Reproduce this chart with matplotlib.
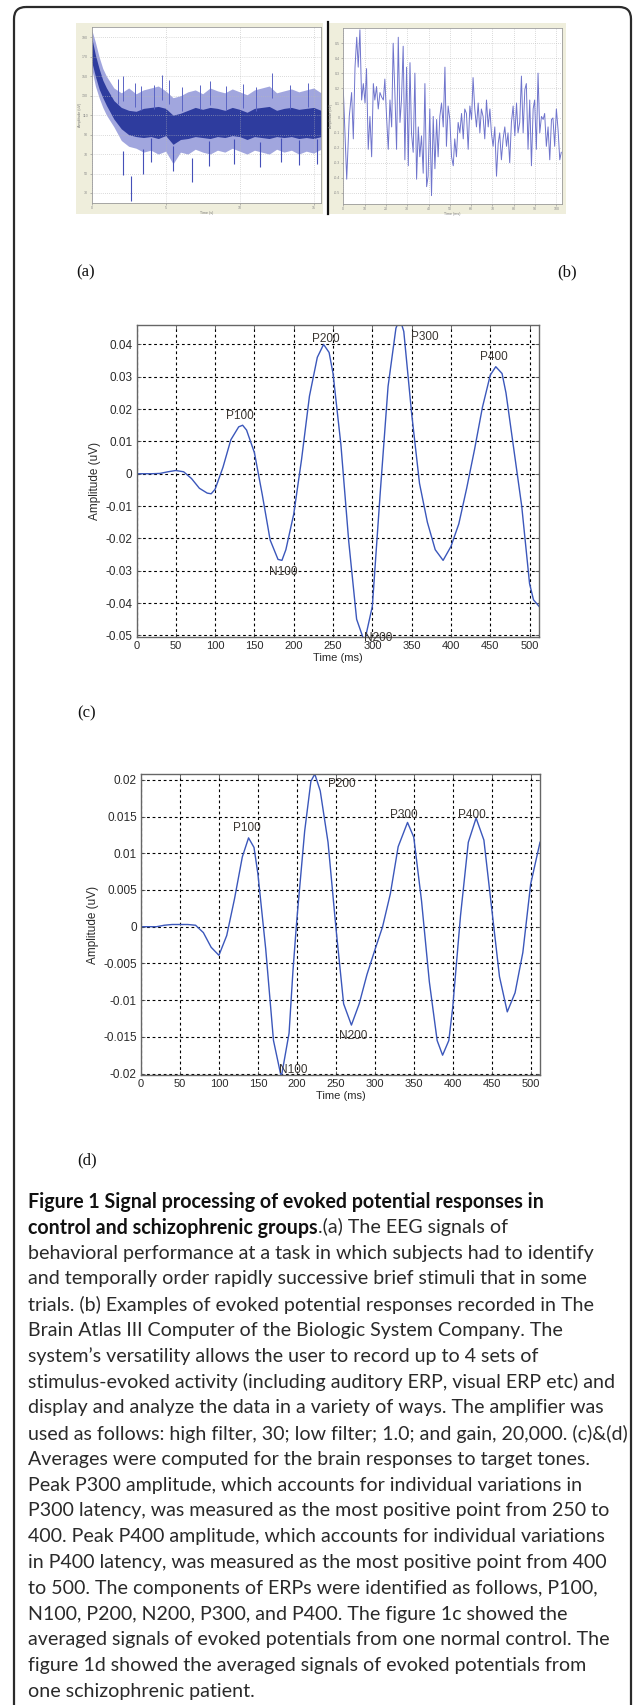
import matplotlib
matplotlib.use('Agg')
import matplotlib.pyplot as plt
from matplotlib.patches import FancyBboxPatch, Rectangle

W, H = 633, 1705
DPI = 100

# ---------------- data ----------------
# (a) raw EEG trace, time (s) vs amplitude; envelopes
a_t = [0, 0.25, 0.5, 0.75, 1.0, 1.5, 2.0, 2.5, 3.0, 3.5, 4.0, 4.5, 5.0, 5.5, 6.0, 6.5, 7.0,
       7.5, 8.0, 8.5, 9.0, 9.5, 10.0, 10.5, 11.0, 11.5, 12.0, 12.5, 13.0, 13.5, 14.0, 14.5, 15.0, 15.5]
a_env_hi = [198, 185, 170, 158, 150, 138, 133, 138, 132, 136, 138, 140, 135, 128, 130, 134, 136,
            132, 138, 135, 133, 137, 134, 131, 136, 138, 140, 133, 135, 137, 134, 136, 138, 133]
a_env_lo = [158, 140, 128, 118, 110, 98, 84, 78, 76, 72, 74, 70, 73, 60, 72, 70, 75,
            72, 70, 74, 72, 76, 73, 70, 74, 72, 70, 75, 72, 74, 70, 73, 71, 75]
a_core_hi = [190, 172, 158, 146, 138, 125, 118, 115, 114, 117, 118, 119, 117, 110, 112, 115, 118,
             116, 118, 117, 115, 118, 116, 113, 117, 118, 119, 115, 117, 118, 116, 117, 118, 115]
a_core_lo = [165, 150, 137, 128, 120, 106, 96, 90, 88, 87, 88, 86, 89, 80, 85, 86, 88,
             87, 86, 88, 87, 89, 88, 85, 88, 87, 86, 88, 87, 88, 86, 87, 86, 88]
a_spike_up_t = [1.8, 2.14, 2.9, 3.3, 4.2, 4.73, 5.2, 6.1, 7.3, 8.0, 9.1, 10.2, 11.1, 12.2, 13.4, 14.6]
a_spike_up_v = [147, 150, 143, 140, 141, 151, 146, 139, 141, 145, 140, 142, 139, 153, 141, 143]
a_spike_dn_t = [2.14, 2.63, 3.45, 4.0, 5.5, 6.76, 7.9, 9.6, 11.4, 12.8, 14.0, 15.2]
a_spike_dn_v = [48, 22, 50, 62, 53, 41, 58, 60, 57, 62, 59, 60]
a_xticks = [0, 5, 10, 15]
a_yticks = [30, 50, 70, 90, 110, 130, 150, 170, 190]

# (b) evoked potential raw response
b_t = [0.0, 1.6, 2.8, 3.9, 4.7, 5.5, 6.3, 7.0, 7.8, 8.6, 9.4, 10.2, 10.9, 11.7, 12.5, 13.3, 14.1,
       14.8, 15.6, 16.4, 17.2, 18.0, 18.8, 19.5, 20.3, 21.1, 21.9, 22.7, 23.4, 24.2, 25.0, 25.8,
       26.6, 27.3, 28.1, 28.9, 29.7, 30.5, 31.3, 32.0, 32.8, 33.6, 34.4, 35.2, 35.9, 36.7, 37.5,
       38.3, 39.1, 39.8, 40.6, 41.4, 42.2, 43.0, 43.8, 44.5, 45.3, 46.1, 46.9, 47.7, 48.4, 49.2,
       50.0, 50.8, 51.6, 52.3, 53.1, 53.9, 54.7, 55.5, 56.3, 57.0, 57.8, 58.6, 59.4, 60.2, 60.9,
       61.7, 62.5, 63.3, 64.1, 64.8, 65.6, 66.4, 67.2, 68.0, 68.8, 69.5, 70.3, 71.1, 71.9, 72.7,
       73.4, 74.2, 75.0, 75.8, 76.6, 77.3, 78.1, 78.9, 79.7, 80.5, 81.3, 82.0, 82.8, 83.6, 84.4,
       85.2, 85.9, 86.7, 87.5, 88.3, 89.1, 89.8, 90.6, 91.4, 92.2, 93.0, 93.8, 94.5, 95.3, 96.1,
       96.9, 97.7, 98.4, 99.2, 100.0, 100.8, 101.6, 102.3]
b_v = [0.19, -0.41, 0.01, 0.17, -0.14, 0.34, 0.54, 0.34, 0.59, 0.12, 0.23, 0.10, 0.33, -0.21, 0.01,
       -0.26, 0.23, 0.12, 0.21, 0.06, 0.17, 0.14, 0.12, 0.26, 0.01, -0.21, 0.12, -0.06, 0.50, 0.17,
       -0.21, 0.54, -0.03, 0.12, 0.48, -0.28, 0.34, -0.32, 0.37, -0.10, -0.23, 0.30, -0.41, -0.06,
       -0.26, -0.12, -0.37, 0.23, -0.46, -0.39, 0.06, -0.52, 0.01, -0.34, -0.01, -0.26, 0.01, 0.10,
       -0.06, 0.34, -0.19, 0.08, -0.01, -0.26, -0.32, -0.14, -0.26, -0.03, -0.10, 0.03, -0.14, 0.06,
       0.03, -0.21, 0.08, -0.01, 0.27, 0.06, -0.06, 0.10, -0.10, 0.06, 0.01, -0.14, 0.12, -0.06,
       0.06, -0.10, -0.19, -0.06, -0.39, -0.17, -0.10, -0.28, -0.14, -0.06, -0.19, -0.10, -0.30,
       -0.03, 0.08, -0.12, 0.10, -0.10, -0.03, 0.28, -0.10, 0.19, 0.23, -0.21, 0.12, -0.32, 0.06,
       0.12, -0.21, 0.30, -0.10, 0.01, -0.01, 0.03, -0.19, -0.06, -0.28, -0.01, 0.00, -0.19, 0.06,
       -0.08, -0.28, -0.23]
b_xticks = [0, 10, 20, 30, 40, 50, 60, 70, 80, 90, 100]
b_yticks = [-0.5, -0.4, -0.3, -0.2, -0.1, 0, 0.1, 0.2, 0.3, 0.4, 0.5]

# (c) averaged ERP, normal control
c_t = [0, 10, 20, 30, 40, 50, 60, 70, 80, 90, 95, 100, 110, 120, 130, 135, 140, 150, 160, 170,
       180, 185, 190, 200, 210, 220, 230, 238, 245, 250, 260, 270, 280, 290, 300, 310, 320, 330,
       335, 340, 350, 360, 370, 380, 390, 400, 410, 420, 430, 440, 450, 457, 465, 470, 480, 490,
       500, 505, 512]
c_v = [0, 0, 0, 0.0001, 0.0006, 0.001, 0.0006, -0.0015, -0.0045, -0.006, -0.0062, -0.0048, 0.002,
       0.0105, 0.0145, 0.0150, 0.0135, 0.0065, -0.0065, -0.0205, -0.0265, -0.0268, -0.0235,
       -0.0125, 0.0045, 0.024, 0.036, 0.040, 0.0375, 0.031, 0.009, -0.021, -0.045, -0.052,
       -0.041, -0.006, 0.027, 0.045, 0.048, 0.044, 0.0186, -0.003, -0.015, -0.0235, -0.0268,
       -0.0225, -0.0155, -0.0045, 0.0075, 0.0205, 0.0305, 0.0331, 0.031, 0.025, 0.0075, -0.010,
       -0.034, -0.039, -0.041]
c_yticks = [-0.05, -0.04, -0.03, -0.02, -0.01, 0, 0.01, 0.02, 0.03, 0.04]
c_ylabels = ['-0.05', '-0.04', '-0.03', '-0.02', '-0.01', '0', '0.01', '0.02', '0.03', '0.04']
c_peaks = ['P100', 'N100', 'P200', 'N200', 'P300', 'P400']
c_peak_t = [131, 187, 241, 307, 367, 455]
c_peak_v = [0.0177, -0.0305, 0.0418, -0.0508, 0.0422, 0.036]

# (d) averaged ERP, schizophrenic patient
d_t = [0, 10, 20, 30, 40, 50, 60, 70, 80, 90, 100, 110, 120, 130, 138, 145, 150, 160, 170, 180,
       190, 195, 200, 210, 218, 223, 230, 240, 250, 260, 270, 280, 290, 300, 310, 320, 330, 342,
       350, 360, 370, 380, 387, 395, 400, 410, 420, 430, 440, 450, 460, 470, 480, 490, 500, 512]
d_v = [0, 0, 0, 0.0002, 0.0003, 0.0003, 0.0003, 0.0002, -0.0008, -0.0028, -0.0039, -0.0012,
       0.0038, 0.0095, 0.0121, 0.0108, 0.0072, -0.003, -0.0155, -0.0205, -0.0145, -0.006, 0.001,
       0.013, 0.0198, 0.0208, 0.0185, 0.0115, 0.0, -0.0105, -0.0134, -0.0105, -0.0065, -0.0032,
       0.0, 0.0045, 0.0109, 0.0142, 0.0122, 0.0035, -0.0075, -0.0155, -0.0175, -0.0155, -0.011,
       0.0015, 0.0115, 0.0148, 0.0118, 0.0025, -0.0068, -0.0116, -0.009, -0.0035, 0.0058, 0.0115]
d_yticks = [-0.02, -0.015, -0.01, -0.005, 0, 0.005, 0.01, 0.015, 0.02]
d_ylabels = ['-0.02', '-0.015', '-0.01', '-0.005', '0', '0.005', '0.01', '0.015', '0.02']
d_peaks = ['P100', 'N100', 'P200', 'N200', 'P300', 'P400']
d_peak_t = [136, 195, 258, 272, 337, 424]
d_peak_v = [0.0135, -0.0195, 0.0195, -0.0149, 0.0152, 0.0152]

erp_xticks = [0, 50, 100, 150, 200, 250, 300, 350, 400, 450, 500]

caption_bold1 = "Figure 1 Signal processing of evoked potential responses in"
caption_bold2 = "control and schizophrenic groups"
caption_rest2 = ".(a) The EEG signals of"
caption_lines = [
    "behavioral performance at a task in which subjects had to identify",
    "and temporally order rapidly successive brief stimuli that in some",
    "trials. (b) Examples of evoked potential responses recorded in The",
    "Brain Atlas III Computer of the Biologic System Company. The",
    "system\u2019s versatility allows the user to record up to 4 sets of",
    "stimulus-evoked activity (including auditory ERP, visual ERP etc) and",
    "display and analyze the data in a variety of ways. The amplifier was",
    "used as follows: high filter, 30; low filter; 1.0; and gain, 20,000. (c)&(d)",
    "Averages were computed for the brain responses to target tones.",
    "Peak P300 amplitude, which accounts for individual variations in",
    "P300 latency, was measured as the most positive point from 250 to",
    "400. Peak P400 amplitude, which accounts for individual variations",
    "in P400 latency, was measured as the most positive point from 400",
    "to 500. The components of ERPs were identified as follows, P100,",
    "N100, P200, N200, P300, and P400. The figure 1c showed the",
    "averaged signals of evoked potentials from one normal control. The",
    "figure 1d showed the averaged signals of evoked potentials from",
    "one schizophrenic patient.",
]

# ---------------- figure ----------------
fig = plt.figure(figsize=(W / DPI, H / DPI), dpi=DPI)
fig.patch.set_facecolor('white')


def pax(l, t, r, b, **kw):
    return fig.add_axes([l / W, 1 - b / H, (r - l) / W, (b - t) / H], **kw)


bg = fig.add_axes([0, 0, 1, 1])
bg.set_xlim(0, W)
bg.set_ylim(H, 0)
bg.axis('off')

# rounded frame around the whole figure
bg.add_patch(FancyBboxPatch((14, 7), 617, 1720, boxstyle='round,pad=0,rounding_size=12',
                            fill=False, ec='#2b2b2b', lw=1.6, clip_on=False))

# beige screenshot frames for (a) and (b)
bg.add_patch(Rectangle((76, 23), 247, 191, fc='#efeedc', ec='none'))
bg.add_patch(Rectangle((328, 23), 238, 191, fc='#efeedc', ec='none'))
bg.plot([327.5, 327.5], [22, 214], color='#111111', lw=1.6)

SANS = ['Liberation Sans', 'DejaVu Sans']
SERIF = ['Liberation Serif', 'DejaVu Serif']
tiny = dict(fontsize=2.6, color='#777777', family=SANS)

# ---- (a) ----
axa = pax(91.7, 26.7, 321, 202.7)
axa.set_facecolor('white')
axa.fill_between(a_t, a_env_lo, a_env_hi, color='#8a90d6', lw=0, alpha=0.8)
axa.fill_between(a_t, a_core_lo, a_core_hi, color='#2e3c9e', lw=0)
axa.vlines(a_spike_up_t, [v - 25 for v in a_spike_up_v], a_spike_up_v, color='#5a64c4', lw=0.7)
axa.vlines(a_spike_dn_t, a_spike_dn_v, [v + 25 for v in a_spike_dn_v], color='#4550b8', lw=0.8)
axa.set_xlim(0, 15.5)
axa.set_ylim(20, 201)
axa.set_xticks(a_xticks)
axa.set_yticks(a_yticks)
axa.set_xticklabels([str(v) for v in a_xticks], **tiny)
axa.set_yticklabels([str(v) for v in a_yticks], **tiny)
axa.tick_params(length=1.5, width=0.4, pad=1, colors='#888888')
axa.grid(True, color='#b8b8b8', lw=0.5, ls=(0, (1, 2)))
axa.set_xlabel('Time (s)', labelpad=0.5, **tiny)
axa.set_ylabel('Amplitude (uV)', labelpad=0.5, **tiny)
for s in axa.spines.values():
    s.set_color('#9a9a9a')
    s.set_linewidth(0.6)

# ---- (b) ----
axb = pax(343.3, 28.3, 561.7, 204)
axb.set_facecolor('white')
axb.plot(b_t, b_v, color='#6f74cc', lw=0.7)
axb.set_xlim(0, 102.5)
axb.set_ylim(-0.576, 0.6)
axb.set_xticks(b_xticks)
axb.set_yticks(b_yticks)
axb.set_xticklabels([str(v) for v in b_xticks], **tiny)
axb.set_yticklabels(['%g' % v for v in b_yticks], **tiny)
axb.tick_params(length=1.5, width=0.4, pad=1, colors='#888888')
axb.grid(True, color='#b8b8b8', lw=0.5, ls=(0, (1, 2)))
axb.set_xlabel('Time (ms)', labelpad=0.5, **tiny)
axb.set_ylabel('Amplitude (uV)', labelpad=0.5, **tiny)
for s in axb.spines.values():
    s.set_color('#9a9a9a')
    s.set_linewidth(0.6)

bg.text(76, 272, '(a)', fontsize=12, family=SERIF, va='center', ha='left', color='#111111')
bg.text(557, 272, '(b)', fontsize=12, family=SERIF, va='center', ha='left', color='#111111')


def erp_axes(ax, t, v, yticks, ylabels, ylim, names, pt, pv):
    ax.plot(t, v, color='#3b57bb', lw=1.0, solid_joinstyle='round')
    ax.set_xlim(0, 512)
    ax.set_ylim(*ylim)
    ax.set_xticks(erp_xticks)
    ax.set_xticklabels([str(x) for x in erp_xticks], fontsize=8, color='#2a2a2a', family=SANS)
    ax.set_yticks(yticks)
    ax.set_yticklabels(ylabels, fontsize=8.5, color='#2a2a2a', family=SANS)
    ax.tick_params(direction='in', length=3, width=0.6, colors='#555555', pad=3,
                   top=True, right=True)
    for lab in ax.get_xticklabels() + ax.get_yticklabels():
        lab.set_color('#2a2a2a')
    ax.grid(True, color='black', lw=0.8, ls=(0, (2.5, 2.5)))
    ax.set_xlabel('Time (ms)', fontsize=8, color='#2a2a2a', family=SANS, labelpad=1)
    ax.set_ylabel('Amplitude (uV)', fontsize=8.5, color='#2a2a2a', family=SANS, labelpad=3)
    for s in ax.spines.values():
        s.set_color('#666666')
        s.set_linewidth(1.0)
    for n, x, y in zip(names, pt, pv):
        ax.text(x, y, n, fontsize=8.5, color='#3a3530', family=SANS, ha='center', va='center')


axc = pax(136.5, 325, 539, 637)
erp_axes(axc, c_t, c_v, c_yticks, c_ylabels, (-0.0505, 0.046), c_peaks, c_peak_t, c_peak_v)
bg.text(77, 713, '(c)', fontsize=12, family=SERIF, va='center', ha='left', color='#111111')

axd = pax(141, 774, 540, 1075)
erp_axes(axd, d_t, d_v, d_yticks, d_ylabels, (-0.0202, 0.0208), d_peaks, d_peak_t, d_peak_v)
bg.text(77, 1160, '(d)', fontsize=12, family=SERIF, va='center', ha='left', color='#111111')

# ---- caption ----
CAP = ['Lato', 'DejaVu Sans']
fig.canvas.draw()
rend = fig.canvas.get_renderer()
probe = bg.text(0, 0, caption_lines[7], fontsize=10, family=CAP)
pw = probe.get_window_extent(rend).width
probe.remove()
cfs = 10 * 600.0 / pw

x0 = 28
y0 = 1200
dy = (1690 - 1200) / 19.0
bg.text(x0, y0, caption_bold1, fontsize=cfs, family=CAP, weight='bold', color='#111111',
        va='center_baseline', ha='left')
tb = bg.text(x0, y0 + dy, caption_bold2, fontsize=cfs, family=CAP, weight='bold',
             color='#111111', va='center_baseline', ha='left')
bw = tb.get_window_extent(rend).width
bg.text(x0 + bw, y0 + dy, caption_rest2, fontsize=cfs, family=CAP, color='#2a2a2a',
        va='center_baseline', ha='left')
for i, line in enumerate(caption_lines):
    bg.text(x0, y0 + (i + 2) * dy, line, fontsize=cfs, family=CAP, color='#2a2a2a',
            va='center_baseline', ha='left')

fig.savefig('out.png', dpi=DPI, facecolor='white')
